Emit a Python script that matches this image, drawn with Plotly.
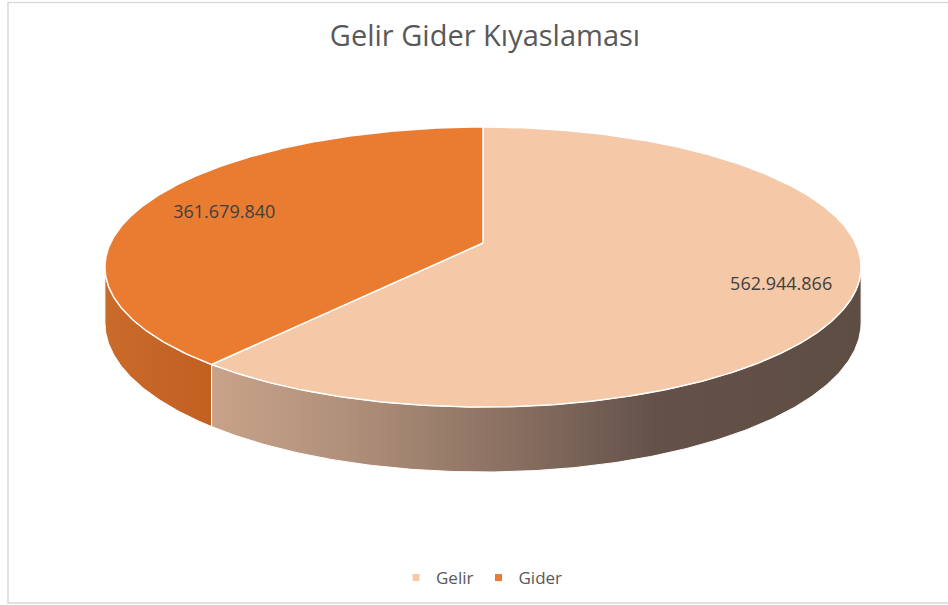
import numpy as np
import plotly.graph_objects as go

# ---- data ----
categories = ["Gelir", "Gider"]
values = [562944866, 361679840]
chart_title = "Gelir Gider Kıyaslaması"

# ---- styles ----
top_colors = ["#F5C8A7", "#EA7C31"]
side_scales = [
    [[0, "#C8A289"], [0.2, "#B1917B"], [0.45, "#8B7162"], [0.68, "#64524A"], [1, "#5E4D42"]],
    [[0, "#C96B2B"], [1, "#C26020"]],
]

W, H = 948, 605
# 3D pie geometry (pixel space, perspective projection of a flat disc)
CX, CY = 483, 243
A, B = 372.5, 135.9
K = 0.1716
D = 53.8


def proj(theta, r=1.0, drop=0.0):
    t = np.radians(theta)
    u = r * np.sin(t)
    v = r * np.cos(t)
    w = 1 + K * v
    return CX + A * u / w, CY - B * v / w + drop * D / w


total = sum(values)
fr = np.array(values) / total
edges = np.concatenate([[0], np.cumsum(fr) * 360])

th_r = np.degrees(np.arctan2(np.sqrt(1 - K * K), -K))
th_l = 360 - th_r

fig = go.Figure()

# sides
for i in range(len(values)):
    a0, a1 = edges[i], edges[i + 1]
    s0, s1 = max(a0, th_r), min(a1, th_l)
    if s1 <= s0:
        continue
    n = max(int((s1 - s0) * 2), 4)
    t = np.linspace(s0, s1, n)
    xt, yt = proj(t)
    xb, yb = proj(t[::-1], drop=1.0)
    xs = np.concatenate([xt, xb, xt[:1]])
    ys = np.concatenate([yt, yb, yt[:1]])
    fig.add_trace(go.Scatter(
        x=xs, y=ys, mode="lines", fill="toself",
        line=dict(color="white", width=1),
        fillgradient=dict(type="horizontal", colorscale=side_scales[i]),
        showlegend=False, hoverinfo="skip"))

# top faces
for i in range(len(values)):
    a0, a1 = edges[i], edges[i + 1]
    n = max(int((a1 - a0) * 2), 4)
    t = np.linspace(a0, a1, n)
    xa, ya = proj(t)
    xs = np.concatenate([[CX], xa, [CX]])
    ys = np.concatenate([[CY], ya, [CY]])
    fig.add_trace(go.Scatter(
        x=xs, y=ys, mode="lines", fill="toself", fillcolor=top_colors[i],
        line=dict(color="white", width=1.5),
        showlegend=False, hoverinfo="skip"))

# data labels
label_r = [0.81, 0.77]
for i in range(len(values)):
    mid = (edges[i] + edges[i + 1]) / 2
    lx, ly = proj(mid, r=label_r[i])
    txt = f"{values[i]:,}".replace(",", ".")
    fig.add_trace(go.Scatter(
        x=[lx], y=[ly + 4], mode="text", text=[txt],
        textfont=dict(family="Open Sans", size=18, color="#404040"),
        showlegend=False, hoverinfo="skip"))

# legend entries
for i in range(len(values)):
    fig.add_trace(go.Scatter(
        x=[None], y=[None], mode="markers", name=categories[i],
        marker=dict(symbol="square", size=7, color=top_colors[i])))

fig.update_layout(
    width=W, height=H, autosize=False,
    margin=dict(l=0, r=0, t=0, b=0),
    paper_bgcolor="white", plot_bgcolor="white",
    title=dict(text=chart_title, x=485 / W, xanchor="center",
               y=1 - 36 / H, yanchor="middle",
               font=dict(family="Open Sans", size=29, color="#595959")),
    xaxis=dict(range=[0, W], visible=False, fixedrange=True),
    yaxis=dict(range=[H, 0], visible=False, fixedrange=True),
    showlegend=True,
    legend=dict(orientation="h", x=482 / W, xanchor="center",
                y=1 - 578 / H, yanchor="middle",
                font=dict(family="Open Sans", size=17, color="#595959"),
                bgcolor="rgba(0,0,0,0)"),
    hovermode=False,
    shapes=[dict(type="rect", xref="x", yref="y", x0=8, x1=960, y0=2.5, y1=603,
                 line=dict(color="#D9D9D9", width=1.5), layer="below")],
)

fig.write_html("out.html", config={"displayModeBar": False},
               post_script="document.body.style.margin='0';document.body.style.overflow='hidden';")
